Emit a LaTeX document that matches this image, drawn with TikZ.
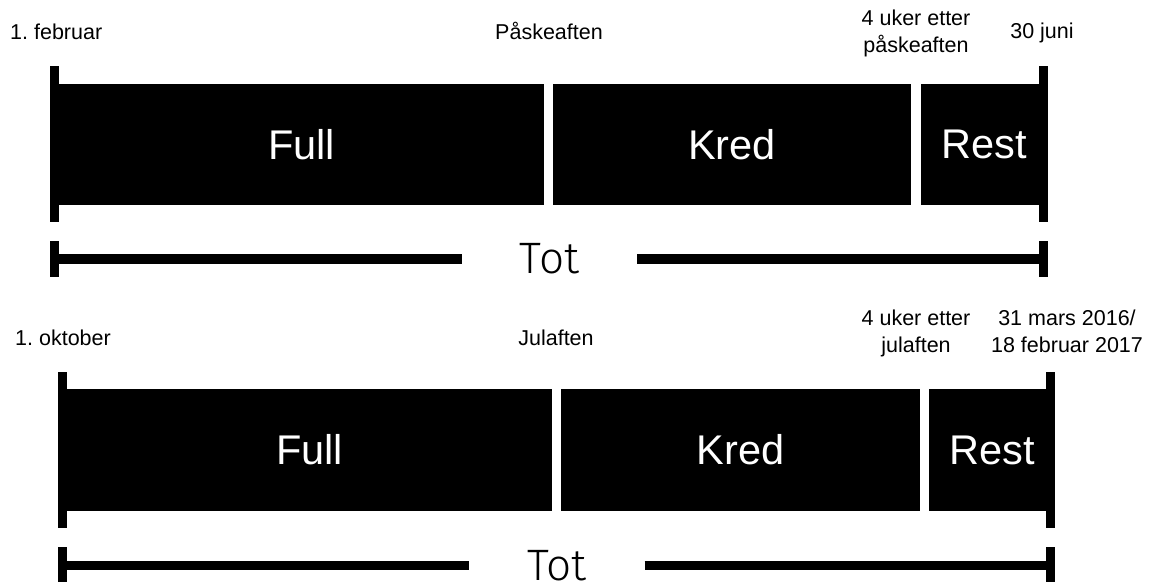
\documentclass[tikz,border=0pt]{standalone}
\usepackage{fontspec}
\setmainfont{Liberation Sans}
\newfontfamily\totfont{Fira Sans Light}
\frenchspacing
\begin{document}
\begin{tikzpicture}[x=1pt,y=-1pt,
  blk/.style={fill=black,draw=none,text=white,inner sep=0pt,font=\fontsize{41.5}{41.5}\selectfont},
  tick/.style={line width=9pt},
  totline/.style={line width=9.5pt},
  lbl/.style={font=\fontsize{21.5}{27}\selectfont,inner sep=0pt,align=center},
  tot/.style={inner sep=0pt,minimum width=175pt,font=\totfont\fontsize{44}{44}\selectfont}]
\useasboundingbox (0,0) rectangle (1156,581);
% ---------- row 1 ----------
\node[blk,minimum width=485pt,minimum height=121pt] (full1) at (301.5,144.5) {Full};
\node[blk,minimum width=358pt,minimum height=121pt] (kred1) at (732,144.5) {Kred};
\node[blk,minimum width=126pt,minimum height=121pt] (rest1) at (984,144.5) {Rest};
\coordinate (tl1a) at (54.5,66); \coordinate (tl1b) at (54.5,222);
\coordinate (tr1a) at (1043,66); \coordinate (tr1b) at (1043,222);
\draw[tick] (tl1a) -- (tl1b);
\draw[tick] (tr1a) -- (tr1b);
\node[lbl,anchor=base west] (l1a) at (10,39) {1. februar};
\node[lbl,anchor=base] (l1b) at (549,39) {Påskeaften};
\node[lbl,anchor=base] (l1c) at (916,52) {4 uker etter\\påskeaften};
\node[lbl,anchor=base] (l1d) at (1042,38) {30 juni};
% tot row 1
\node[tot] (tot1) at (549.5,259) {Tot};
\coordinate (ttl1a) at (54.5,241); \coordinate (ttl1b) at (54.5,277);
\coordinate (ttr1a) at (1043.5,241); \coordinate (ttr1b) at (1043.5,277);
\coordinate (tl1m) at (54.5,259); \coordinate (tr1m) at (1043.5,259);
\draw[tick] (ttl1a) -- (ttl1b);
\draw[tick] (ttr1a) -- (ttr1b);
\draw[totline] (tl1m) -- (tot1.west);
\draw[totline] (tot1.east) -- (tr1m);
% ---------- row 2 ----------
\node[blk,minimum width=485pt,minimum height=122pt] (full2) at (309.5,450) {Full};
\node[blk,minimum width=359pt,minimum height=122pt] (kred2) at (740.5,450) {Kred};
\node[blk,minimum width=126pt,minimum height=122pt] (rest2) at (992,450) {Rest};
\coordinate (tl2a) at (62.5,372); \coordinate (tl2b) at (62.5,528);
\coordinate (tr2a) at (1050.5,372); \coordinate (tr2b) at (1050.5,528);
\draw[tick] (tl2a) -- (tl2b);
\draw[tick] (tr2a) -- (tr2b);
\node[lbl,anchor=base west] (l2a) at (15,345) {1. oktober};
\node[lbl,anchor=base] (l2b) at (556,345) {Julaften};
\node[lbl,anchor=base] (l2c) at (916,352.5) {4 uker etter\\julaften};
\node[lbl,anchor=base] (l2d) at (1067,352.5) {31 mars 2016/\\18 februar 2017};
% tot row 2
\node[tot] (tot2) at (557,565.5) {Tot};
\coordinate (ttl2a) at (62.5,547); \coordinate (ttl2b) at (62.5,583);
\coordinate (ttr2a) at (1050.5,547); \coordinate (ttr2b) at (1050.5,583);
\coordinate (tl2m) at (62.5,565.5); \coordinate (tr2m) at (1050.5,565.5);
\draw[tick] (ttl2a) -- (ttl2b);
\draw[tick] (ttr2a) -- (ttr2b);
\draw[totline] (tl2m) -- (tot2.west);
\draw[totline] (tot2.east) -- (tr2m);
\end{tikzpicture}
\end{document}
